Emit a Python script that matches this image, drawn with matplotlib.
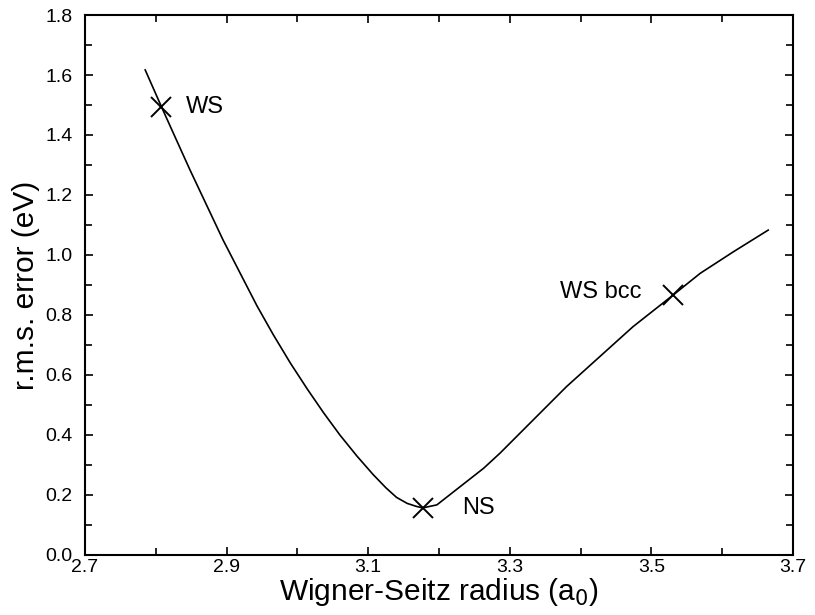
import numpy as np
import matplotlib
matplotlib.use("Agg")
import matplotlib.pyplot as plt
from matplotlib.ticker import MultipleLocator, FixedLocator

plt.rcParams['font.family'] = ['Liberation Sans', 'DejaVu Sans']

# curve
radius = [2.785, 2.808, 2.825, 2.848, 2.872, 2.895, 2.919, 2.943, 2.966,
          2.990, 3.014, 3.037, 3.060, 3.084, 3.107, 3.125, 3.140, 3.155,
          3.168, 3.177, 3.197, 3.230, 3.263, 3.286, 3.333, 3.380, 3.427,
          3.474, 3.531, 3.569, 3.616, 3.665]
rms_err = [1.617, 1.494, 1.405, 1.285, 1.165, 1.050, 0.940, 0.830, 0.734,
           0.640, 0.553, 0.474, 0.400, 0.330, 0.268, 0.224, 0.192, 0.172,
           0.162, 0.157, 0.167, 0.228, 0.289, 0.339, 0.450, 0.561, 0.661,
           0.761, 0.867, 0.939, 1.011, 1.083]

# marked points
mark_x = [2.808, 3.177, 3.531]
mark_y = [1.494, 0.157, 0.867]
mark_lbl = ["WS", "NS", "WS bcc"]

fig = plt.figure(figsize=(8.15, 6.15), dpi=100)
ax = fig.add_axes([0.1043, 0.0976, 0.8687, 0.878])

ax.plot(radius, rms_err, color="black", lw=1.2)
ax.plot(mark_x, mark_y, "x", color="black", ms=15, mew=1.4)

ax.text(mark_x[0] + 0.034, mark_y[0], mark_lbl[0], fontsize=17, va="center", ha="left")
ax.text(mark_x[1] + 0.056, mark_y[1], mark_lbl[1], fontsize=17, va="center", ha="left")
ax.text(mark_x[2] - 0.045, mark_y[2] + 0.01, mark_lbl[2], fontsize=17, va="center", ha="right")

ax.set_xlim(2.7, 3.7)
ax.set_ylim(0.0, 1.8)
ax.xaxis.set_major_locator(FixedLocator([2.7, 2.9, 3.1, 3.3, 3.5, 3.7]))
ax.xaxis.set_minor_locator(FixedLocator([2.8, 3.0, 3.2, 3.4, 3.6]))
ax.yaxis.set_major_locator(MultipleLocator(0.2))
ax.yaxis.set_minor_locator(MultipleLocator(0.1))
ax.xaxis.set_major_formatter(lambda v, p: f"{v:.1f}")
ax.yaxis.set_major_formatter(lambda v, p: f"{v:.1f}")

ax.tick_params(which="both", direction="in", top=True, right=True, width=1.2)
ax.tick_params(which="major", length=6, labelsize=14)
ax.tick_params(which="minor", length=5)
ax.tick_params(axis="x", pad=3)
ax.tick_params(axis="y", pad=9)
for s in ax.spines.values():
    s.set_linewidth(1.5)

ax.set_xlabel("Wigner-Seitz radius (a$_0$)", fontsize=21.5, labelpad=0)
ax.set_ylabel("r.m.s. error (eV)", fontsize=21.5, labelpad=4)

fig.savefig("out.png", dpi=100)
